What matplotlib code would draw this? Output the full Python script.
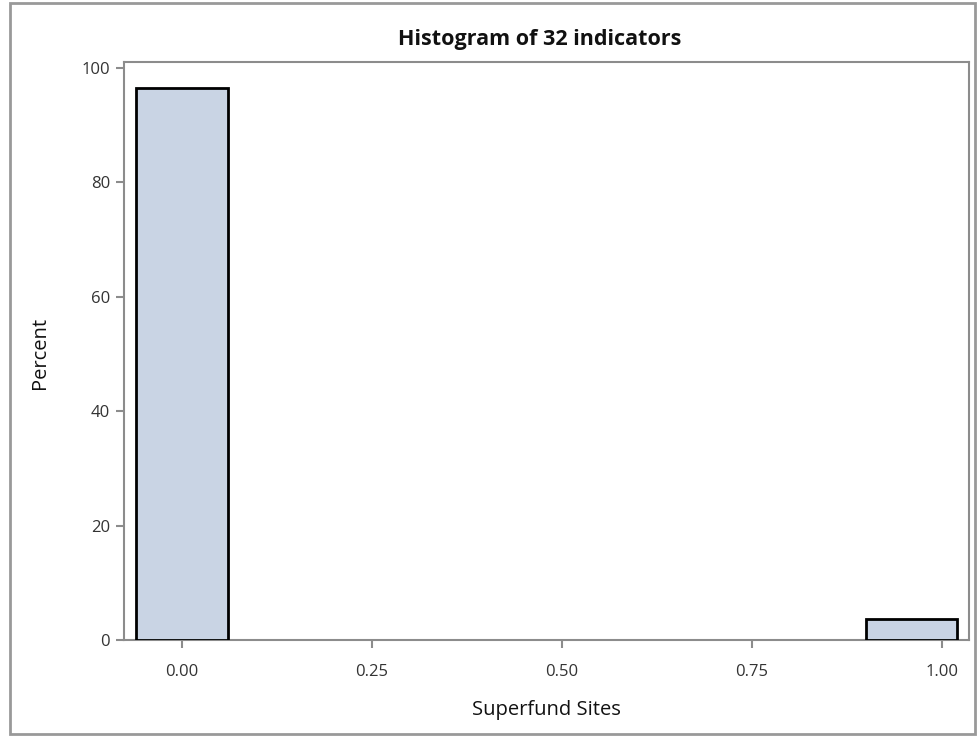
import matplotlib
matplotlib.use("Agg")
import matplotlib.pyplot as plt
from matplotlib.patches import Rectangle

# histogram bins (midpoints) and percentages
bin_mids = [0.0, 0.96]
percents = [96.4, 3.6]
bin_width = 0.12
xticks = [0.0, 0.25, 0.5, 0.75, 1.0]
xtick_labels = ["0.00", "0.25", "0.50", "0.75", "1.00"]
yticks = [0, 20, 40, 60, 80, 100]

plt.rcParams["font.family"] = ["Open Sans", "DejaVu Sans"]

fig = plt.figure(figsize=(9.77, 7.36), dpi=100)
ax = fig.add_axes([124 / 977, 1 - 640 / 736, (969 - 124) / 977, (640 - 62) / 736])

ax.bar(bin_mids, percents, width=bin_width, color="#c9d4e4",
       edgecolor="black", linewidth=2, zorder=3)

ax.set_xlim(-0.0763, 1.0355)
ax.set_ylim(0, 101)
ax.set_xticks(xticks)
ax.set_xticklabels(xtick_labels)
ax.set_yticks(yticks)
for s in ax.spines.values():
    s.set_color("#8c8c8c")
    s.set_linewidth(1.5)
ax.tick_params(colors="#8c8c8c", labelcolor="#333333", labelsize=12,
               length=6, width=1.5)
ax.tick_params(axis="x", pad=11)
ax.tick_params(axis="y", pad=4)

ax.set_xlabel("Superfund Sites", fontsize=14.5, va="center", color="#111111")
ax.xaxis.set_label_coords(0.5, -0.1211)
ax.set_ylabel("Percent", fontsize=14.5, va="center", color="#111111")
ax.yaxis.set_label_coords(-0.0994, 0.4965)
fig.text(540 / 977, 1 - 39 / 736, "Histogram of 32 indicators", ha="center",
         va="center", fontsize=15.5, fontweight="bold", color="#111111")

# outer frame
fig.patches.append(Rectangle((10 / 977, 2 / 736), 965 / 977, 731 / 736,
                             transform=fig.transFigure, fill=False,
                             edgecolor="#999999", linewidth=2))

fig.savefig("out.png", dpi=100)
